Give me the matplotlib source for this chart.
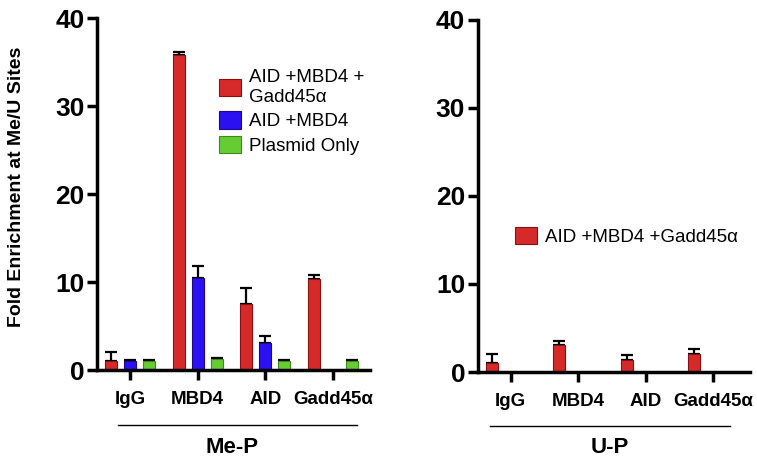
import numpy as np
import matplotlib
matplotlib.use("Agg")
import matplotlib.pyplot as plt

plt.rcParams.update({
    "font.family": ["Liberation Sans", "DejaVu Sans"],
    "font.weight": "bold",
})

# Datos
categories = ["IgG", "MBD4", "AID", "Gadd45α"]
series_names = ["AID +MBD4 +\nGadd45α", "AID +MBD4", "Plasmid Only"]
colors = ["#d62a2a", "#2b10f2", "#66cc33"]
edges = ["#8a1010", "#1a0890", "#3d8a1a"]

mep_red = [1.0, 35.8, 7.5, 10.3]
mep_red_err = [1.1, 0.4, 1.8, 0.5]
mep_blue = [1.0, 10.5, 3.1, 0.0]
mep_blue_err = [0.1, 1.3, 0.8, 0.0]
mep_green = [1.0, 1.3, 1.0, 1.0]
mep_green_err = [0.1, 0.1, 0.1, 0.1]

up_red = [1.0, 3.1, 1.4, 2.0]
up_red_err = [1.0, 0.4, 0.5, 0.6]
up_label = "AID +MBD4 +Gadd45α"

fig = plt.figure(figsize=(7.57, 4.65), dpi=100)
ax1 = fig.add_axes([0.128, 0.204, 0.361, 0.757])
ax2 = fig.add_axes([0.631, 0.200, 0.360, 0.757])

x = np.arange(len(categories))
off = 0.28
w = 0.18

leg_kw = dict(frameon=False, prop={"size": 13.5, "weight": "normal"},
              handlelength=1.2, handleheight=1.05, handletextpad=0.4,
              labelspacing=0.3)


def style_axis(ax):
    for s in ["top", "right"]:
        ax.spines[s].set_visible(False)
    for s in ["left", "bottom"]:
        ax.spines[s].set_linewidth(2.5)
    ax.set_ylim(0, 40)
    ax.set_yticks([0, 10, 20, 30, 40])
    ax.set_xlim(-0.49, 3.55)
    ax.set_xticks(x)
    ax.set_xticklabels(categories, fontsize=13.5, fontweight="bold")
    ax.tick_params(axis="y", labelsize=19, width=2.5, length=7, pad=2)
    ax.tick_params(axis="x", width=2.5, length=7, pad=8)
    for t in ax.get_yticklabels():
        t.set_fontweight("bold")


def bars(ax, pos, vals, errs, color, edge, label):
    mask = [v > 0 for v in vals]
    p = [pp for pp, m in zip(pos, mask) if m]
    v = [vv for vv, m in zip(vals, mask) if m]
    e = [ee for ee, m in zip(errs, mask) if m]
    ax.bar(p, v, width=w, color=color, edgecolor=edge, linewidth=0.8,
           label=label, zorder=2)
    ax.errorbar(p, v, yerr=[np.zeros(len(e)), e], fmt="none", ecolor="black",
                elinewidth=1.6, capsize=4, capthick=1.6, zorder=1)


bars(ax1, x - off, mep_red, mep_red_err, colors[0], edges[0], series_names[0])
bars(ax1, x, mep_blue, mep_blue_err, colors[1], edges[1], series_names[1])
bars(ax1, x + off, mep_green, mep_green_err, colors[2], edges[2], series_names[2])
style_axis(ax1)
ax1.set_ylabel("Fold Enrichment at Me/U Sites", fontsize=14, fontweight="bold")
ax1.yaxis.set_label_coords(-0.262, 0.52)
ax1.legend(loc="upper left", bbox_to_anchor=(0.385, 0.903), **leg_kw)

bars(ax2, x - off, up_red, up_red_err, colors[0], edges[0], up_label)
style_axis(ax2)
ax2.legend(loc="upper left", bbox_to_anchor=(0.075, 0.46), **leg_kw)

# lineas de grupo y etiquetas
fig.add_artist(plt.Line2D([118 / 757, 357 / 757], [1 - 425 / 465] * 2,
                          color="black", linewidth=1))
fig.text(232 / 757, 1 - 447 / 465, "Me-P", ha="center", va="center",
         fontsize=16, fontweight="bold")
fig.add_artist(plt.Line2D([490 / 757, 730 / 757], [1 - 426 / 465] * 2,
                          color="black", linewidth=1))
fig.text(610 / 757, 1 - 447 / 465, "U-P", ha="center", va="center",
         fontsize=16, fontweight="bold")

fig.savefig("out.png", dpi=100)
